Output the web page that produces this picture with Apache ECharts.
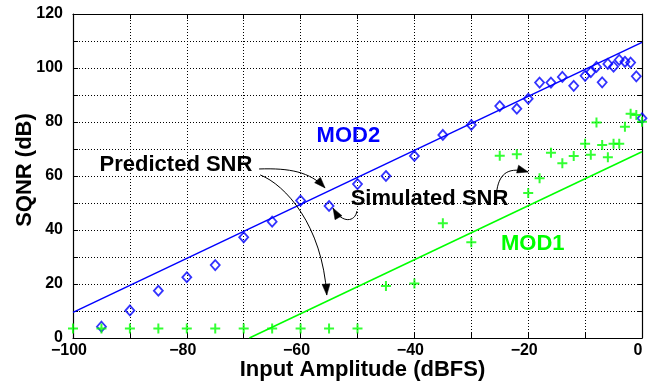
<!DOCTYPE html>
<html>
<head>
<meta charset="utf-8">
<script src="https://cdn.jsdelivr.net/npm/echarts@6/dist/echarts.min.js"></script>
<style>
html,body{margin:0;padding:0;background:#fff;}
#c{width:662px;height:383px;}
</style>
</head>
<body>
<div id="c"></div>
<script>
// ---- data ----
const mod2SimX = [-95,-90,-85,-80,-75,-70,-65,-60,-55,-50,-45,-40,-35,-30,-25,-22,-20,-18,-16,-14,-12,-10,-9,-8,-7,-6,-5,-4,-3,-2,-1,0];
const mod2SimY = [4.2,10.2,17.5,22.5,27,37.3,43.1,50.9,48.9,57.0,60.0,67.4,75.2,78.9,85.9,84.9,88.6,94.6,94.6,96.7,93.4,97.1,98.5,100.4,94.7,101.5,100.5,103,102.3,102,96.9,81.4];
const mod1SimX = [-100,-95,-90,-85,-80,-75,-70,-65,-60,-55,-50,-45,-40,-35,-30,-25,-22,-20,-18,-16,-14,-12,-10,-9,-8,-7,-6,-5,-4,-3,-2,-1,0];
const mod1SimY = [3.5,3.5,3.5,3.5,3.5,3.5,3.5,3.5,3.5,3.5,3.5,19.3,20.2,42.5,35.5,67.5,68.1,53.7,59.2,68.6,64.7,67.4,71.9,67.9,79.8,71.5,66.9,71.9,71.9,78.2,83.1,82.6,80.1];
const mod2PredX = [-100, 0];
const mod2PredY = [9.5, 109.5];
const mod1PredX = [-69, 0];
const mod1PredY = [0, 69];
const xTickValues = [-100,-80,-60,-40,-20,0];
const xTickLabels = ['\u2212100','\u221280','\u221260','\u221240','\u221220','0'];
const yTickValues = [0,20,40,60,80,100,120];
const yTickLabels = ['0','20','40','60','80','100','120'];

// annotation labels (data coordinates)
const notes = [
  {text:'Predicted SNR', x:-81.9, y:64.2, color:'#000000'},
  {text:'Simulated SNR', x:-37.35, y:51.5, color:'#000000'},
  {text:'MOD2', x:-51.6, y:74.8, color:'#0000ff'},
  {text:'MOD1', x:-19.2, y:34.9, color:'#00ff00'}
];
// arrows: cubic curves [start, ctrl1, ctrl2, tip] in data coordinates
const arrows = [
  [[-67.3,62.6],[-61.9,63.0],[-58.35,61.5],[-55.7,55.6]],
  [[-67.1,60.4],[-62.7,56.7],[-56.2,41.9],[-55.4,15.9]],
  [[-50.1,47.0],[-50.4,43.0],[-52.7,42.2],[-54.3,48.1]],
  [[-25.5,54.8],[-25.0,61.5],[-23.2,63.3],[-20.0,61.5]]
];

const zip = (a,b) => a.map((v,i)=>[v,b[i]]);
const FONT = '"Liberation Sans", Arial, Helvetica, sans-serif';

const chart = echarts.init(document.getElementById('c'), null, {renderer:'canvas'});

const gridLine = {show:true, lineStyle:{color:'#000', width:1, type:[1,2]}};
const tickStyle = {show:true, inside:true, length:5, lineStyle:{color:'#000', width:1}};

chart.setOption({
  animation:false,
  backgroundColor:'#ffffff',
  grid:{left:73, right:20, top:14, bottom:45, containLabel:false, outerBoundsMode:'none'},
  xAxis:[{
    type:'value', min:-100, max:0, interval:10,
    axisLine:{show:true, onZero:false, lineStyle:{color:'#000', width:1.2}},
    axisTick:tickStyle,
    splitLine:gridLine,
    axisLabel:{
      color:'#000', fontFamily:FONT, fontWeight:'bold', fontSize:16, margin:5,
      padding:[0,8,0,0],
      formatter:function(v){const i=xTickValues.indexOf(v); return i>=0?xTickLabels[i]:'';}
    },
    name:'Input Amplitude (dBFS)', nameLocation:'middle', nameGap:21, nameMoveOverlap:false,
    nameTextStyle:{color:'#000', fontFamily:FONT, fontWeight:'bold', fontSize:22, padding:[0,0,0,10]}
  },{
    type:'value', min:-100, max:0, interval:10, position:'top',
    axisLine:{show:true, onZero:false, lineStyle:{color:'#000', width:1.2}},
    axisTick:tickStyle, axisLabel:{show:false}, splitLine:{show:false}
  }],
  yAxis:[{
    type:'value', min:0, max:120, interval:10,
    axisLine:{show:true, onZero:false, lineStyle:{color:'#000', width:1.2}},
    axisTick:tickStyle,
    splitLine:gridLine,
    axisLabel:{
      color:'#000', fontFamily:FONT, fontWeight:'bold', fontSize:16, margin:10,
      formatter:function(v){const i=yTickValues.indexOf(v); return i>=0?yTickLabels[i]:'';}
    },
    name:'SQNR (dB)', nameLocation:'middle', nameGap:37, nameMoveOverlap:false,
    nameTextStyle:{color:'#000', fontFamily:FONT, fontWeight:'bold', fontSize:22, padding:[0,0,0,12]}
  },{
    type:'value', min:0, max:120, interval:10, position:'right',
    axisLine:{show:true, onZero:false, lineStyle:{color:'#000', width:1.2}},
    axisTick:tickStyle, axisLabel:{show:false}, splitLine:{show:false}
  }],
  series:[
    {type:'line', data:zip(mod2PredX,mod2PredY), showSymbol:false, symbol:'none',
     lineStyle:{color:'#0000ff', width:1.5}, z:3},
    {type:'line', data:zip(mod1PredX,mod1PredY), showSymbol:false, symbol:'none',
     lineStyle:{color:'#00ff00', width:1.5}, z:3},
    {type:'scatter', data:zip(mod2SimX,mod2SimY), symbol:'diamond', symbolSize:[9,10], clip:false,
     itemStyle:{color:'rgba(0,0,0,0)', borderColor:'#0000ff', borderWidth:1.8}, z:4},
    {type:'scatter', data:zip(mod1SimX,mod1SimY), symbol:'path://M4,0h2v4h4v2h-4v4h-2v-4h-4v-2h4z', symbolSize:10, clip:false,
     itemStyle:{color:'#00ff00'}, z:4}
  ]
});

function px(p){ return chart.convertToPixel({gridIndex:0}, p); }
const graphics = [];
notes.forEach(n=>{
  const p = px([n.x,n.y]);
  graphics.push({type:'text', x:p[0], y:p[1], z:10,
    style:{text:n.text, fill:n.color, font:'bold 22px '+FONT, fontSize:22, fontWeight:'bold', fontFamily:FONT,
      align:'center', verticalAlign:'middle', textAlign:'center', textVerticalAlign:'middle'}});
});
arrows.forEach(a=>{
  const [p0,c1,c2,p3] = a.map(px);
  graphics.push({type:'bezierCurve', z:10,
    shape:{x1:p0[0], y1:p0[1], cpx1:c1[0], cpy1:c1[1], cpx2:c2[0], cpy2:c2[1], x2:p3[0], y2:p3[1]},
    style:{stroke:'#000', lineWidth:1, fill:null}});
  let dx=p3[0]-c2[0], dy=p3[1]-c2[1]; const L=Math.hypot(dx,dy); dx/=L; dy/=L;
  const len=11, w=4;
  const bx=p3[0]-dx*len, by=p3[1]-dy*len;
  graphics.push({type:'polygon', z:11,
    shape:{points:[[p3[0],p3[1]],[bx-dy*w,by+dx*w],[bx+dy*w,by-dx*w]]},
    style:{fill:'#000', stroke:'#000', lineWidth:0.5}});
});
chart.setOption({graphic:graphics});
</script>
</body>
</html>
